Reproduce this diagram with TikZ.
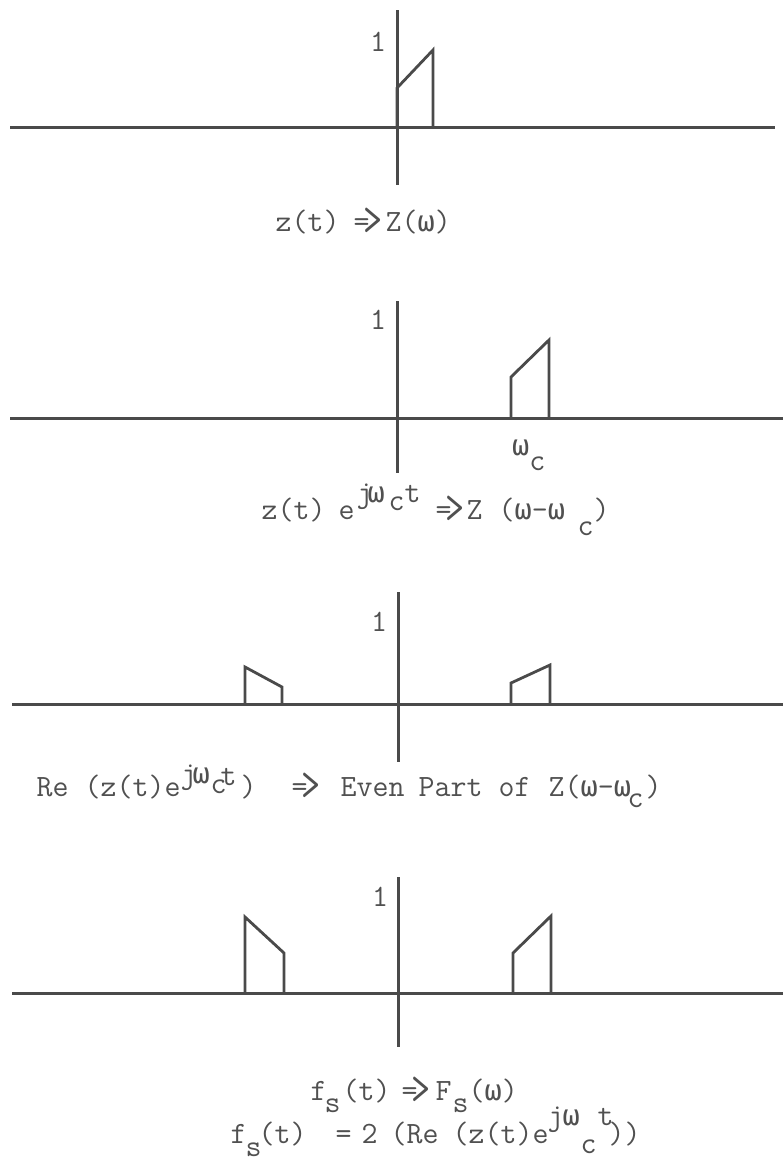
\documentclass[tikz,border=0pt]{standalone}
\usepackage{fontspec}
\usepackage{graphicx}
\newfontfamily\grk{DejaVu Sans Mono}[Scale=0.92]
\definecolor{ink}{HTML}{4A4A4A}
\definecolor{typ}{HTML}{505050}
\newcommand\om{{\grk ω}}
\newcommand\imp{=\kern-6pt\raisebox{-4pt}{\scalebox{1.2}[1.6]{>}}}
\newcommand\tp[2]{\makebox[0pt][l]{\hspace*{#1}#2}}
\newcommand\up[2]{\raisebox{#1}{#2}}
\tikzset{
  axe/.style={line width=3pt, ink},
  spec/.style={line width=2.8pt, ink, line join=miter},
  txt/.style={inner sep=0pt, typ, font=\ttfamily\fontsize{31}{36}\selectfont},
}
\begin{document}
\begin{tikzpicture}[x=1pt, y=-1pt]
\useasboundingbox (0,0) rectangle (783,1163);
        %assi
        \draw[axe](10,127)--(775,127);
        \draw[axe](397,10)--(397,185);
        \draw[axe](10,418)--(783,418);
        \draw[axe](397,301)--(397,473);
        \draw[axe](12,704)--(783,704);
        \draw[axe](398,592)--(398,762);
        \draw[axe](12,993)--(783,993);
        \draw[axe](398,877)--(398,1047);
        %Z(w)
            \draw[spec](397,127)--++(0,-39)--++(36,-38)--++(0,77);
        %Z(w-wc)
            \draw[spec](511,418)--++(0,-41)--++(38,-37)--++(0,78);
        %parte pari
            \draw[spec](245,704)--++(0,-37)--++(37,20)--++(0,17);
            \draw[spec](511,704)--++(0,-21)--++(39,-18)--++(0,39);
        %Fs(w)
            \draw[spec](245,993)--++(0,-76)--++(39,36)--++(0,40);
            \draw[spec](513,993)--++(0,-40)--++(38,-37)--++(0,77);
        %label 1
        \node[txt] (one1) at (378,42) {1};
        \node[txt] (one2) at (378,320) {1};
        \node[txt] (one3) at (379,622) {1};
        \node[txt] (one4) at (380,897) {1};
        \node[txt,anchor=base west] (wc) at (512,455) {\om\up{-15pt}{c}};
        %trasformate
        \node[txt,anchor=base west] (lab1) at (275,231)
            {\tp{0pt}{z(t)}\tp{78pt}{\imp}\tp{110pt}{Z(\om)}};
        \node[txt,anchor=base west] (lab2) at (261,519)
            {\tp{0pt}{z(t)}\tp{77pt}{e}\tp{95pt}{\up{17pt}{j}}\tp{106pt}{\up{17pt}{\om}}\tp{127pt}{\up{9pt}{c}}\tp{143pt}{\up{17pt}{t}}%
             \tp{174pt}{\imp}\tp{205pt}{Z}\tp{237pt}{(\om-\om}\tp{316pt}{\up{-16pt}{c}}\tp{332pt}{)}};
        \node[txt,anchor=base west] (lab3) at (36,796)
            {\tp{0pt}{Re}\tp{48pt}{(z(t)e}\tp{144pt}{\up{13pt}{j}}\tp{156pt}{\up{13pt}{\om}}\tp{174pt}{\up{3pt}{c}}\tp{184pt}{\up{11pt}{t}}\tp{204pt}{)}%
             \tp{255pt}{\imp}\tp{304pt}{Even}\tp{382pt}{Part}\tp{462pt}{of}\tp{512pt}{Z(\om-\om}\tp{591pt}{\up{-11pt}{c}}\tp{609pt}{)}};
        \node[txt,anchor=base west] (lab4) at (310,1100)
            {\tp{0pt}{f}\tp{14pt}{\up{-12pt}{s}}\tp{32pt}{(t)}\tp{91pt}{\imp}\tp{125pt}{F}\tp{142pt}{\up{-12pt}{s}}\tp{158pt}{(\om)}};
        \node[txt,anchor=base west] (lab5) at (230,1143)
            {\tp{0pt}{f}\tp{15pt}{\up{-13pt}{s}}\tp{28pt}{(t)}\tp{105pt}{=}\tp{131pt}{2}\tp{160pt}{(Re}\tp{222pt}{(z(t)e}%
             \tp{317pt}{\up{18pt}{j}}\tp{332pt}{\up{18pt}{\om}}\tp{350pt}{\up{-10pt}{c}}\tp{367pt}{\up{18pt}{t}}\tp{378pt}{))}};
\end{tikzpicture}
\end{document}
